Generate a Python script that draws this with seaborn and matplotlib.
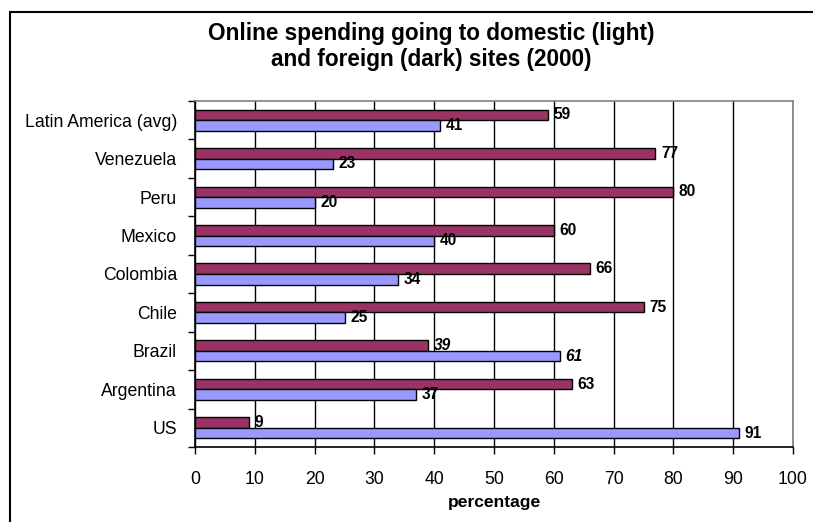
import matplotlib
matplotlib.use("Agg")
import matplotlib.pyplot as plt
from matplotlib.patches import Rectangle
from matplotlib.ticker import FixedLocator
import numpy as np
import pandas as pd
import seaborn as sns

# Share of online spending, by country (2000)
countries = ["Latin America (avg)", "Venezuela", "Peru", "Mexico", "Colombia",
             "Chile", "Brazil", "Argentina", "US"]
foreign = [59, 77, 80, 60, 66, 75, 39, 63, 9]
domestic = [41, 23, 20, 40, 34, 25, 61, 37, 91]
series = ["foreign", "domestic"]
colors = ["#993366", "#9999FF"]
x_ticks = list(range(0, 101, 10))

df = pd.DataFrame({
    "country": countries * 2,
    "site": ["foreign"] * len(countries) + ["domestic"] * len(countries),
    "value": foreign + domestic,
})

sns.set_theme(style="white")
plt.rcParams["font.family"] = ["Liberation Sans", "DejaVu Sans"]
plt.rcParams["text.color"] = "black"
plt.rcParams["axes.labelcolor"] = "black"
plt.rcParams["xtick.color"] = "black"
plt.rcParams["ytick.color"] = "black"

W, H = 813, 522
fig = plt.figure(figsize=(W / 100, H / 100), dpi=100)
ax = fig.add_axes([195 / W, 1 - 447 / H, (793 - 195) / W, (447 - 101) / H])

sns.barplot(data=df, y="country", x="value", hue="site", order=countries,
            hue_order=series, palette=colors, orient="h", width=0.55, gap=0,
            edgecolor="black", linewidth=1.0, saturation=1, legend=False,
            ax=ax, zorder=3)

ax.set_xlim(0, 100)
ax.set_ylim(len(countries) - 0.5, -0.5)
ax.set_xticks(x_ticks)
ax.set_xticklabels([str(t) for t in x_ticks])
ax.grid(axis="x", color="black", linewidth=1.0, zorder=0)
ax.grid(axis="y", visible=False)
ax.set_axisbelow(True)

# category ticks: labels at centres, tick marks at the boundaries
ax.yaxis.set_minor_locator(FixedLocator(np.arange(-0.5, len(countries), 1.0)))
ax.tick_params(axis="y", which="major", length=0, pad=13, labelsize=12.7,
               labelcolor="black")
ax.tick_params(axis="y", which="minor", direction="out", length=5,
               width=1, color="black", left=True)
ax.tick_params(axis="x", which="major", direction="out", length=5, width=1,
               color="black", bottom=True, pad=12, labelsize=12.7,
               labelcolor="black")

ax.set_ylabel("")
ax.set_xlabel("percentage", fontsize=12.6, fontweight="bold", labelpad=5,
              color="black")

for side in ["left", "bottom"]:
    ax.spines[side].set_color("black")
    ax.spines[side].set_linewidth(1.2)
for side in ["top", "right"]:
    ax.spines[side].set_color("#808080")
    ax.spines[side].set_linewidth(1.2)

# value labels next to each bar
for container, vals in zip(ax.containers, [foreign, domestic]):
    texts = ax.bar_label(container, labels=[str(v) for v in vals], padding=4,
                         fontsize=11.2, fontweight="bold", color="black")
    for name, t in zip(countries, texts):
        if name == "Brazil":
            t.set_fontstyle("italic")

fig.text(431 / W, 1 - 22 / H,
         "Online spending going to domestic (light)\nand foreign (dark) sites (2000)",
         ha="center", va="top", fontsize=16.3, fontweight="bold",
         linespacing=1.18, color="black")

# chart frame
fig.patches.append(Rectangle((9.5 / W, -0.1), 2.0, 1.1 - 11.5 / H,
                             transform=fig.transFigure, fill=False,
                             edgecolor="black", linewidth=1.5))

fig.savefig("out.png", dpi=100)
